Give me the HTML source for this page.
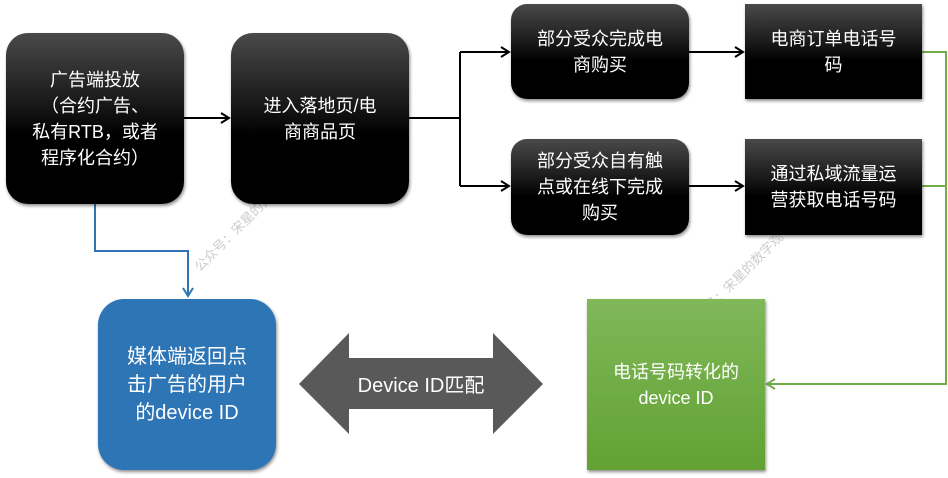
<!DOCTYPE html>
<html><head><meta charset="utf-8"><style>
body{margin:0;width:948px;height:478px;background:#fff;position:relative;overflow:hidden;font-family:"Liberation Sans","Noto Sans CJK SC",sans-serif;}
.b{position:absolute;display:flex;align-items:center;justify-content:center;text-align:center;color:#fff;font-size:18px;line-height:26px;box-sizing:border-box;background:linear-gradient(#4a4a4a 0%,#1a1a1a 40%,#000 60%,#000 100%);box-shadow:1px 2px 3px rgba(0,0,0,.45);}
svg{position:absolute;left:0;top:0;}
</style></head><body>
<svg width="948" height="478">
<defs>
<marker id="ak" markerWidth="12" markerHeight="12" refX="10" refY="6" orient="auto" markerUnits="userSpaceOnUse"><path d="M2,1 L10,6 L2,11" fill="none" stroke="#000" stroke-width="2"/></marker>
<marker id="ab" markerWidth="12" markerHeight="12" refX="10" refY="6" orient="auto" markerUnits="userSpaceOnUse"><path d="M2,1 L10,6 L2,11" fill="none" stroke="#2e75b6" stroke-width="2"/></marker>
<marker id="ag" markerWidth="12" markerHeight="12" refX="10" refY="6" orient="auto" markerUnits="userSpaceOnUse"><path d="M2,1 L10,6 L2,11" fill="none" stroke="#70ad47" stroke-width="2"/></marker>
</defs>
<g fill="none" stroke-width="2">
<line x1="184" y1="118" x2="229" y2="118" stroke="#000" marker-end="url(#ak)"/>
<polyline points="409,118 460,118" stroke="#000"/>
<line x1="460" y1="52" x2="460" y2="186" stroke="#000"/>
<line x1="460" y1="52" x2="509" y2="52" stroke="#000" marker-end="url(#ak)"/>
<line x1="460" y1="186" x2="509" y2="186" stroke="#000" marker-end="url(#ak)"/>
<line x1="689" y1="52" x2="743" y2="52" stroke="#000" marker-end="url(#ak)"/>
<line x1="689" y1="186" x2="743" y2="186" stroke="#000" marker-end="url(#ak)"/>
<polyline points="95,204 95,251 188,251 188,296" stroke="#2e75b6" marker-end="url(#ab)"/>
<polyline points="922,52 946,52 946,384 767,384" stroke="#70ad47" marker-end="url(#ag)"/>
<line x1="922" y1="186" x2="946" y2="186" stroke="#70ad47"/>
</g>
<polygon points="299,384 349,333 349,358 493,358 493,333 543,384 493,434 493,409 349,409 349,434" fill="#595959"/>
<text x="421" y="392" fill="#fff" font-size="20" text-anchor="middle" font-family="Liberation Sans,Noto Sans CJK SC,sans-serif">Device ID匹配</text>
<g fill="#ccc" font-size="13" font-family="Noto Sans CJK SC,sans-serif">
<text transform="translate(200,272) rotate(-45)">公众号：宋星的数字观</text>
<text transform="translate(692,330) rotate(-45)">公众号：宋星的数字观</text>
</g>
</svg>
<div class="b" style="left:6px;top:33px;width:178px;height:171px;border-radius:22px;">广告端投放<br>（合约广告、<br>私有RTB，或者<br>程序化合约）</div>
<div class="b" style="left:231px;top:33px;width:178px;height:171px;border-radius:22px;">进入落地页/电<br>商商品页</div>
<div class="b" style="left:511px;top:4px;width:178px;height:95px;border-radius:16px;">部分受众完成电<br>商购买</div>
<div class="b" style="left:511px;top:139px;width:178px;height:96px;border-radius:16px;">部分受众自有触<br>点或在线下完成<br>购买</div>
<div class="b" style="left:745px;top:4px;width:177px;height:95px;">电商订单电话号<br>码</div>
<div class="b" style="left:745px;top:139px;width:177px;height:96px;">通过私域流量运<br>营获取电话号码</div>
<div class="b" style="left:98px;top:299px;width:178px;height:171px;border-radius:26px;background:#2e75b6;font-size:20px;line-height:28px;">媒体端返回点<br>击广告的用户<br>的device ID</div>
<div class="b" style="left:587px;top:299px;width:178px;height:171px;background:linear-gradient(#80b85a,#62a132);font-size:18px;line-height:26px;">电话号码转化的<br>device ID</div>
</body></html>
